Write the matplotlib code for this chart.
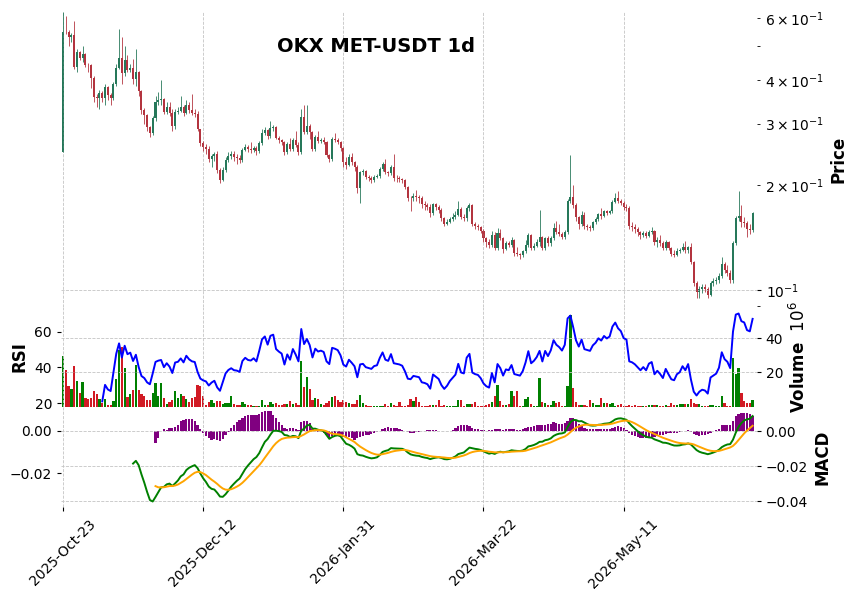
import numpy as np
import pandas as pd
import matplotlib

matplotlib.use('Agg')
import matplotlib.pyplot as plt

plt.rcParams['font.family'] = 'DejaVu Sans'
plt.rcParams['font.size'] = 10
plt.rcParams['xtick.major.size'] = 3
plt.rcParams['ytick.major.size'] = 3
plt.rcParams['ytick.minor.size'] = 2.5
plt.rcParams['axes.unicode_minus'] = True

title = 'OKX MET-USDT 1d'
start_date = '2025-10-23'

# daily candles (USDT), open of each day = previous close
first_open = 0.249
closes = [
    0.550, 0.548, 0.531, 0.538, 0.436, 0.480, 0.462, 0.475, 0.442, 0.440,
    0.405, 0.357, 0.355, 0.367, 0.355, 0.381, 0.362, 0.355, 0.389, 0.432,
    0.462, 0.418, 0.456, 0.427, 0.432, 0.402, 0.421, 0.372, 0.328, 0.317,
    0.293, 0.282, 0.311, 0.346, 0.350, 0.352, 0.324, 0.335, 0.322, 0.296,
    0.324, 0.326, 0.335, 0.322, 0.339, 0.328, 0.322, 0.320, 0.289, 0.264,
    0.257, 0.253, 0.237, 0.242, 0.245, 0.221, 0.207, 0.221, 0.236, 0.242,
    0.245, 0.240, 0.239, 0.236, 0.252, 0.257, 0.253, 0.252, 0.255, 0.250,
    0.264, 0.282, 0.287, 0.276, 0.291, 0.293, 0.273, 0.269, 0.266, 0.248,
    0.262, 0.253, 0.269, 0.260, 0.248, 0.313, 0.283, 0.296, 0.283, 0.253,
    0.274, 0.267, 0.269, 0.266, 0.244, 0.237, 0.271, 0.269, 0.266, 0.255,
    0.233, 0.228, 0.240, 0.233, 0.225, 0.196, 0.218, 0.219, 0.211, 0.209,
    0.207, 0.211, 0.212, 0.222, 0.230, 0.218, 0.216, 0.225, 0.210, 0.209,
    0.208, 0.206, 0.197, 0.184, 0.183, 0.186, 0.185, 0.184, 0.176, 0.175,
    0.173, 0.166, 0.176, 0.173, 0.170, 0.161, 0.155, 0.157, 0.160, 0.162,
    0.164, 0.171, 0.162, 0.161, 0.172, 0.175, 0.155, 0.153, 0.152, 0.148,
    0.141, 0.137, 0.135, 0.144, 0.132, 0.146, 0.141, 0.131, 0.136, 0.135,
    0.139, 0.128, 0.127, 0.126, 0.129, 0.135, 0.144, 0.132, 0.134, 0.137,
    0.142, 0.132, 0.141, 0.136, 0.141, 0.151, 0.147, 0.145, 0.142, 0.147,
    0.180, 0.185, 0.175, 0.162, 0.155, 0.164, 0.153, 0.152, 0.151, 0.157,
    0.160, 0.165, 0.163, 0.168, 0.166, 0.168, 0.179, 0.184, 0.180, 0.178,
    0.173, 0.172, 0.153, 0.152, 0.150, 0.147, 0.144, 0.146, 0.143, 0.147,
    0.148, 0.137, 0.139, 0.136, 0.132, 0.137, 0.132, 0.127, 0.126, 0.129,
    0.130, 0.133, 0.130, 0.133, 0.120, 0.105, 0.099, 0.101, 0.102, 0.101,
    0.097, 0.105, 0.106, 0.107, 0.110, 0.119, 0.114, 0.112, 0.107, 0.136,
    0.161, 0.163, 0.157, 0.156, 0.150, 0.149, 0.166,
]
highs = [
    0.627, 0.610, 0.555, 0.545, 0.590, 0.490, 0.485, 0.500, 0.478, 0.447,
    0.445, 0.410, 0.365, 0.375, 0.372, 0.390, 0.385, 0.366, 0.395, 0.445,
    0.560, 0.530, 0.500, 0.470, 0.445, 0.460, 0.490, 0.425, 0.375, 0.332,
    0.320, 0.296, 0.315, 0.360, 0.370, 0.400, 0.356, 0.345, 0.345, 0.330,
    0.330, 0.335, 0.360, 0.340, 0.350, 0.345, 0.365, 0.330, 0.325, 0.290,
    0.268, 0.262, 0.258, 0.246, 0.249, 0.250, 0.223, 0.225, 0.240, 0.248,
    0.250, 0.250, 0.245, 0.243, 0.255, 0.262, 0.260, 0.265, 0.258, 0.258,
    0.267, 0.290, 0.293, 0.289, 0.305, 0.298, 0.296, 0.276, 0.271, 0.268,
    0.265, 0.272, 0.273, 0.285, 0.265, 0.330, 0.340, 0.340, 0.300, 0.286,
    0.278, 0.285, 0.273, 0.275, 0.268, 0.246, 0.275, 0.282, 0.272, 0.268,
    0.257, 0.240, 0.245, 0.247, 0.235, 0.228, 0.220, 0.222, 0.221, 0.214,
    0.212, 0.213, 0.215, 0.225, 0.233, 0.238, 0.220, 0.228, 0.245, 0.213,
    0.212, 0.210, 0.208, 0.199, 0.186, 0.190, 0.193, 0.187, 0.186, 0.180,
    0.178, 0.176, 0.178, 0.178, 0.175, 0.172, 0.162, 0.160, 0.162, 0.166,
    0.168, 0.180, 0.173, 0.165, 0.174, 0.177, 0.176, 0.157, 0.155, 0.153,
    0.150, 0.142, 0.140, 0.148, 0.147, 0.151, 0.150, 0.142, 0.138, 0.138,
    0.142, 0.140, 0.133, 0.128, 0.130, 0.139, 0.146, 0.145, 0.136, 0.140,
    0.170, 0.143, 0.142, 0.143, 0.143, 0.156, 0.158, 0.155, 0.147, 0.149,
    0.182, 0.243, 0.200, 0.178, 0.163, 0.168, 0.167, 0.155, 0.154, 0.158,
    0.162, 0.166, 0.172, 0.170, 0.170, 0.170, 0.181, 0.190, 0.192, 0.182,
    0.180, 0.176, 0.174, 0.157, 0.155, 0.152, 0.148, 0.148, 0.148, 0.149,
    0.152, 0.149, 0.142, 0.144, 0.138, 0.139, 0.138, 0.133, 0.130, 0.132,
    0.132, 0.136, 0.138, 0.134, 0.136, 0.121, 0.106, 0.103, 0.104, 0.104,
    0.102, 0.106, 0.108, 0.109, 0.112, 0.124, 0.120, 0.118, 0.114, 0.138,
    0.163, 0.192, 0.175, 0.162, 0.158, 0.155, 0.167,
]
lows = [
    0.249, 0.540, 0.500, 0.515, 0.430, 0.420, 0.455, 0.450, 0.435, 0.420,
    0.380, 0.345, 0.335, 0.330, 0.345, 0.340, 0.350, 0.340, 0.350, 0.385,
    0.430, 0.390, 0.410, 0.420, 0.420, 0.390, 0.385, 0.360, 0.320, 0.300,
    0.285, 0.275, 0.278, 0.305, 0.340, 0.340, 0.320, 0.320, 0.315, 0.285,
    0.290, 0.320, 0.323, 0.315, 0.320, 0.322, 0.318, 0.314, 0.285, 0.258,
    0.250, 0.245, 0.232, 0.225, 0.235, 0.217, 0.203, 0.205, 0.218, 0.233,
    0.238, 0.234, 0.230, 0.231, 0.233, 0.250, 0.249, 0.247, 0.249, 0.244,
    0.247, 0.260, 0.279, 0.271, 0.273, 0.285, 0.270, 0.264, 0.261, 0.244,
    0.245, 0.250, 0.251, 0.257, 0.244, 0.245, 0.280, 0.280, 0.270, 0.250,
    0.250, 0.264, 0.264, 0.262, 0.240, 0.233, 0.235, 0.265, 0.262, 0.250,
    0.225, 0.222, 0.226, 0.228, 0.220, 0.190, 0.177, 0.214, 0.208, 0.205,
    0.202, 0.204, 0.209, 0.210, 0.220, 0.215, 0.212, 0.214, 0.205, 0.204,
    0.204, 0.202, 0.195, 0.180, 0.168, 0.180, 0.180, 0.178, 0.172, 0.170,
    0.170, 0.162, 0.164, 0.170, 0.166, 0.158, 0.153, 0.154, 0.156, 0.158,
    0.160, 0.163, 0.160, 0.158, 0.158, 0.168, 0.153, 0.150, 0.149, 0.146,
    0.137, 0.133, 0.132, 0.133, 0.130, 0.130, 0.139, 0.128, 0.130, 0.133,
    0.133, 0.125, 0.125, 0.123, 0.124, 0.128, 0.133, 0.130, 0.130, 0.133,
    0.134, 0.130, 0.130, 0.134, 0.134, 0.139, 0.145, 0.143, 0.140, 0.140,
    0.145, 0.178, 0.172, 0.158, 0.150, 0.153, 0.150, 0.149, 0.148, 0.149,
    0.155, 0.158, 0.160, 0.162, 0.164, 0.165, 0.166, 0.177, 0.178, 0.175,
    0.170, 0.168, 0.150, 0.148, 0.146, 0.143, 0.140, 0.142, 0.141, 0.142,
    0.145, 0.135, 0.133, 0.134, 0.130, 0.130, 0.130, 0.125, 0.124, 0.125,
    0.128, 0.129, 0.128, 0.128, 0.119, 0.103, 0.095, 0.095, 0.098, 0.099,
    0.095, 0.096, 0.103, 0.104, 0.105, 0.108, 0.112, 0.110, 0.105, 0.105,
    0.135, 0.158, 0.152, 0.152, 0.142, 0.145, 0.147,
]
# volume in millions
volumes = [
    29.4, 21.6, 12.0, 10.4, 24.0, 15.0, 8.0, 14.4, 4.8, 4.4,
    4.8, 9.0, 7.6, 4.4, 2.0, 4.4, 1.0, 0.6, 3.4, 16.4,
    33.0, 35.0, 22.4, 5.6, 7.4, 9.6, 24.4, 9.6, 7.6, 6.4,
    4.0, 4.0, 8.0, 13.8, 6.4, 13.8, 4.8, 1.6, 2.4, 4.0,
    9.0, 5.0, 7.2, 6.4, 4.4, 2.8, 4.8, 5.6, 12.6, 12.0,
    6.4, 0.8, 2.4, 4.0, 2.0, 3.0, 3.0, 1.6, 2.0, 2.0,
    6.4, 1.6, 0.8, 0.8, 2.4, 1.4, 1.0, 0.6, 0.4, 0.4,
    0.4, 3.6, 0.8, 0.6, 2.4, 1.6, 2.0, 0.8, 0.8, 1.6,
    1.6, 3.0, 1.4, 1.8, 0.8, 27.0, 11.4, 17.6, 10.4, 3.6,
    5.0, 4.4, 1.4, 0.8, 2.0, 3.0, 5.6, 6.4, 3.6, 2.8,
    3.6, 2.8, 2.0, 1.6, 1.6, 3.6, 6.8, 2.0, 0.8, 0.2,
    0.2, 0.2, 0.2, 0.2, 0.2, 1.2, 0.2, 2.0, 0.8, 0.4,
    2.4, 0.1, 0.1, 1.0, 4.6, 3.0, 5.6, 2.4, 0.2, 0.2,
    0.4, 0.6, 0.6, 0.8, 4.0, 0.4, 0.8, 0.2, 0.2, 0.2,
    0.2, 4.0, 4.0, 0.2, 1.2, 1.2, 1.2, 2.8, 0.4, 0.2,
    0.2, 0.8, 1.4, 2.4, 6.4, 12.6, 3.0, 0.8, 0.8, 1.4,
    9.0, 6.4, 9.0, 0.2, 0.4, 4.4, 5.6, 1.4, 0.2, 0.2,
    16.8, 2.4, 2.0, 0.8, 0.8, 3.0, 2.0, 2.4, 0.2, 0.4,
    12.0, 54.0, 11.0, 2.4, 0.8, 0.6, 0.6, 0.2, 3.6, 1.8,
    0.8, 0.6, 4.8, 2.0, 1.8, 1.2, 1.8, 0.4, 0.8, 1.2,
    0.4, 0.4, 0.6, 0.2, 0.6, 0.2, 0.4, 0.2, 0.2, 0.6,
    0.6, 0.8, 0.6, 0.2, 0.2, 0.8, 0.2, 1.8, 0.6, 0.6,
    1.2, 1.2, 1.2, 1.2, 4.6, 2.0, 1.4, 1.4, 0.2, 0.2,
    0.2, 0.6, 0.6, 0.2, 0.2, 6.0, 1.8, 0.2, 0.2, 28.6,
    18.8, 22.4, 8.0, 3.0, 1.8, 1.8, 4.0,
]
# MACD histogram, starts at candle 33
hist_start = 33
macd_hist = [
    -0.0058, -0.0034, -0.0003, 0.0006, 0.0005, 0.0015, 0.0013, 0.0019, 0.0028, 0.0047,
    0.0052, 0.0053, 0.0053, 0.0053, 0.0047, 0.0025, 0.0006, -0.0009, -0.0027, -0.0034,
    -0.0042, -0.0038, -0.0042, -0.0047, -0.0038, -0.0022, -0.0006, 0.0013, 0.0025, 0.0041,
    0.0050, 0.0060, 0.0067, 0.0075, 0.0075, 0.0075, 0.0072, 0.0081, 0.0088, 0.0094,
    0.0091, 0.0091, 0.0075, 0.0062, 0.0041, 0.0025, 0.0015, 0.0009, 0.0013, 0.0015,
    0.0009, 0.0005, 0.0041, 0.0047, 0.0044, 0.0036, 0.0009, 0.0003, -0.0006, -0.0003,
    -0.0011, -0.0022, -0.0034, -0.0027, -0.0019, -0.0022, -0.0027, -0.0031, -0.0034, -0.0031,
    -0.0034, -0.0042, -0.0034, -0.0031, -0.0027, -0.0022, -0.0019, -0.0015, -0.0011, -0.0006,
    0.0001, 0.0009, 0.0015, 0.0019, 0.0015, 0.0015, 0.0013, 0.0009, 0.0005, 0.0000,
    -0.0006, -0.0011, -0.0009, -0.0006, -0.0006, -0.0003, -0.0001, 0.0003, 0.0003, 0.0003,
    0.0003, 0.0000, -0.0003, -0.0003, -0.0001, 0.0001, 0.0003, 0.0013, 0.0020, 0.0025,
    0.0028, 0.0025, 0.0020, 0.0013, 0.0009, 0.0006, 0.0003, 0.0003, 0.0001, 0.0003,
    0.0005, 0.0006, 0.0009, 0.0009, 0.0003, 0.0006, 0.0006, 0.0009, 0.0006, 0.0003,
    0.0003, 0.0006, 0.0013, 0.0019, 0.0019, 0.0022, 0.0025, 0.0028, 0.0025, 0.0028,
    0.0031, 0.0034, 0.0041, 0.0036, 0.0034, 0.0031, 0.0036, 0.0047, 0.0062, 0.0060,
    0.0047, 0.0031, 0.0025, 0.0015, 0.0009, 0.0006, 0.0006, 0.0006, 0.0006, 0.0009,
    0.0009, 0.0009, 0.0009, 0.0013, 0.0019, 0.0022, 0.0019, 0.0013, 0.0003, -0.0011,
    -0.0019, -0.0027, -0.0031, -0.0034, -0.0034, -0.0034, -0.0031, -0.0028, -0.0028, -0.0025,
    -0.0022, -0.0019, -0.0015, -0.0013, -0.0013, -0.0011, -0.0009, -0.0006, -0.0003, -0.0003,
    0.0003, -0.0006, -0.0015, -0.0022, -0.0025, -0.0022, -0.0019, -0.0015, -0.0009, -0.0003,
    0.0003, 0.0009, 0.0025, 0.0025, 0.0025, 0.0028, 0.0047, 0.0067, 0.0078, 0.0083,
    0.0083, 0.0083, 0.0078, 0.0067,
]

UP = '#26785a'
DOWN = '#b3343f'
GRID = dict(linestyle='--', color='#c4c4c4', linewidth=0.6)


def main():
    n = len(closes)
    x = np.arange(n)
    opens = [first_open] + closes[:-1]
    dates = pd.date_range(start_date, periods=n, freq='D')

    # RSI 14 (Wilder smoothing)
    close_s = pd.Series(closes)
    delta = close_s.diff()
    gain = delta.clip(lower=0).ewm(alpha=1 / 14, min_periods=14).mean()
    loss = (-delta.clip(upper=0)).ewm(alpha=1 / 14, min_periods=14).mean()
    rsi = 100 - 100 / (1 + gain / loss)

    # MACD 12/26/9
    ema_fast = close_s.ewm(span=12, adjust=False, min_periods=12).mean()
    ema_slow = close_s.ewm(span=26, adjust=False, min_periods=26).mean()
    macd = ema_fast - ema_slow
    signal = macd.ewm(span=9, adjust=False, min_periods=9).mean()

    up = np.array(closes) >= np.array(opens)

    fig = plt.figure(figsize=(8.56, 6.0), dpi=100, facecolor='w')
    L, W = 0.0713, 0.8125
    ax1 = fig.add_axes([L, 0.4883, W, 0.4917])
    ax2 = fig.add_axes([L, 0.3225, W, 0.1658], sharex=ax1)
    ax3 = fig.add_axes([L, 0.1542, W, 0.1683], sharex=ax1)
    ax2l = ax2.twinx()
    ax3r = ax3.twinx()

    # candles
    o = np.array(opens)
    c = np.array(closes)
    body_lo = np.minimum(o, c)
    body_h = np.abs(c - o)
    colors = [UP if u else DOWN for u in up]
    ax1.vlines(x, lows, highs, colors=colors, linewidth=0.7, alpha=0.85)
    ax1.bar(x, body_h, bottom=body_lo, width=0.72, color=colors, linewidth=0)
    ax1.set_yscale('log')
    ax1.set_ylim(0.0894, 0.626)
    ax1.yaxis.tick_right()
    ax1.yaxis.set_label_position('right')
    ax1.set_ylabel('Price', fontsize=12, fontweight='bold')
    ax1.grid(True, which='major', **GRID)
    ax1.tick_params(axis='x', bottom=False, labelbottom=False)

    # volume (right) + RSI (left)
    vcolors = ['green' if u else '#d11a24' for u in up]
    ax2.bar(x, volumes, width=0.8, color=vcolors, linewidth=0)
    ax2.set_ylim(0, 58.4)
    ax2.set_yticks([20, 40])
    ax2.yaxis.tick_right()
    ax2.yaxis.set_label_position('right')
    ax2.set_ylabel('Volume  $10^{6}$', fontsize=12, fontweight='bold')
    ax2.grid(True, **GRID)
    ax2.tick_params(axis='x', bottom=False, labelbottom=False)

    ax2l.plot(x, rsi, color='blue', linewidth=1.4)
    ax2l.set_ylim(18.2, 73.8)
    ax2l.set_yticks([20, 40, 60])
    ax2l.yaxis.tick_left()
    ax2l.yaxis.set_label_position('left')
    ax2l.set_ylabel('RSI', fontsize=12, fontweight='bold')
    ax2l.grid(False)

    # MACD histogram (left) + lines (right)
    hx = np.arange(hist_start, hist_start + len(macd_hist))
    ax3.bar(hx, macd_hist, width=0.8, color='purple', linewidth=0)
    ax3.set_ylim(-0.0361, 0.0114)
    ax3.set_yticks([-0.02, 0.0])
    ax3.yaxis.tick_left()
    ax3.grid(True, axis='x', **GRID)

    ax3r.plot(x, macd, color='green', linewidth=1.4)
    ax3r.plot(x, signal, color='orange', linewidth=1.4)
    ax3r.set_ylim(-0.0435, 0.0142)
    ax3r.set_yticks([-0.04, -0.02, 0.0])
    ax3r.yaxis.tick_right()
    ax3r.yaxis.set_label_position('right')
    ax3r.set_ylabel('MACD', fontsize=12, fontweight='bold')
    ax3r.grid(True, axis='y', **GRID)

    ticks = list(range(0, n, 50))
    ax3.set_xticks(ticks)
    ax3.set_xticklabels([dates[i].strftime('%Y-%b-%d') for i in ticks],
                        rotation=45, ha='center')
    ax3.set_xlim(-0.7, 247.4)

    for ax in (ax1, ax2, ax2l, ax3, ax3r):
        for s in ax.spines.values():
            s.set_visible(False)

    fig.text(376 / 856, 1 - 47 / 600, title, ha='center', va='center',
             fontsize=14, fontweight='bold')

    plt.savefig('out.png', dpi=100)


if __name__ == '__main__':
    main()
